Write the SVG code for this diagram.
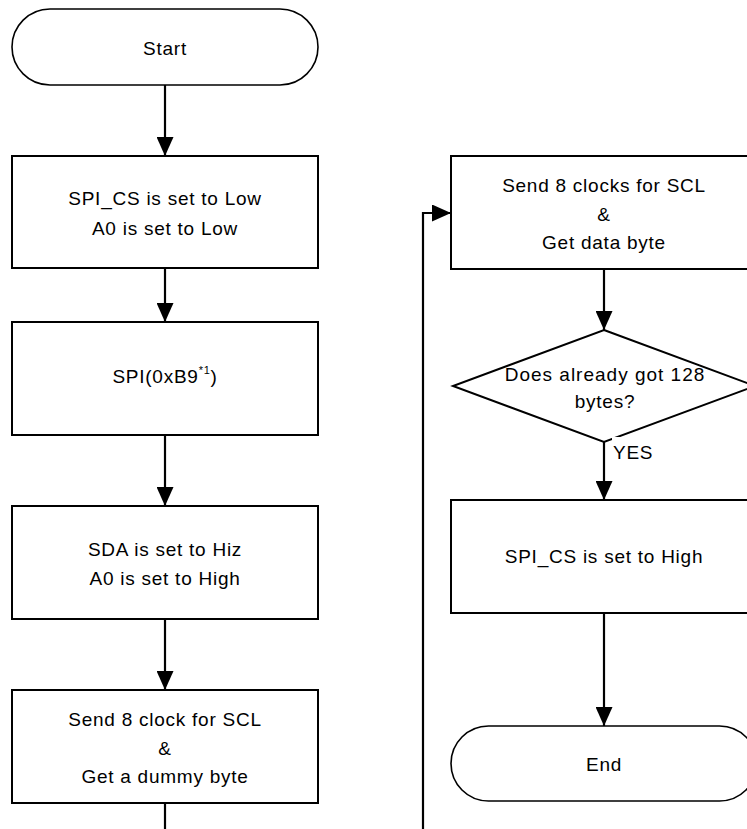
<svg xmlns="http://www.w3.org/2000/svg" width="747" height="829" viewBox="0 0 747 829">
  <style>
    .shape { fill: #ffffff; stroke: #000000; stroke-width: 2; }
    .term { fill: #ffffff; stroke: #000000; stroke-width: 1.6; }
    .conn { fill: none; stroke: #000000; stroke-width: 2.2; }
    .t { font-family: "Liberation Sans", Arial, sans-serif; font-size: 19px; fill: #000000; text-anchor: middle; letter-spacing: 0.75px; }
    .sup { font-size: 11px; fill: #000000; }
  </style>
  <defs>
    <marker id="arrow" markerUnits="userSpaceOnUse" markerWidth="19" markerHeight="17" refX="19" refY="8.5" orient="auto">
      <path d="M0,0 L19,8.5 L0,17 Z" fill="#000000"/>
    </marker>
  </defs>
  <rect x="0" y="0" width="747" height="829" fill="#ffffff"/>

  <g id="connectors">
    <path class="conn" d="M165,85 V156" marker-end="url(#arrow)"/>
    <path class="conn" d="M165,268 V322" marker-end="url(#arrow)"/>
    <path class="conn" d="M165,435 V506" marker-end="url(#arrow)"/>
    <path class="conn" d="M165,619 V690" marker-end="url(#arrow)"/>
    <path class="conn" d="M165,803 V835"/>
    <path class="conn" d="M423,835 V213 H451" marker-end="url(#arrow)"/>
    <path class="conn" d="M604,269 V330" marker-end="url(#arrow)"/>
    <path class="conn" d="M604,442 V500" marker-end="url(#arrow)"/>
    <path class="conn" d="M604,613 V726" marker-end="url(#arrow)"/>
  </g>

  <g id="start">
    <rect class="term" x="12" y="9" width="306" height="76" rx="38" ry="38"/>
    <text class="t" x="165" y="55">Start</text>
  </g>

  <g id="cs-low">
    <rect class="shape" x="12" y="156" width="306" height="112"/>
    <text class="t" x="165" y="205">SPI_CS is set to Low</text>
    <text class="t" x="165" y="235">A0 is set to Low</text>
  </g>

  <g id="spi-cmd">
    <rect class="shape" x="12" y="322" width="306" height="113"/>
    <text class="t" x="165" y="383">SPI(0xB9<tspan class="sup" dy="-9">*1</tspan><tspan dy="9">)</tspan></text>
  </g>

  <g id="sda-hiz">
    <rect class="shape" x="12" y="506" width="306" height="113"/>
    <text class="t" x="165" y="556">SDA is set to Hiz</text>
    <text class="t" x="165" y="585">A0 is set to High</text>
  </g>

  <g id="dummy-byte">
    <rect class="shape" x="12" y="690" width="306" height="113"/>
    <text class="t" x="165" y="726">Send 8 clock for SCL</text>
    <text class="t" x="165" y="755">&amp;</text>
    <text class="t" x="165" y="783">Get a dummy byte</text>
  </g>

  <g id="data-byte">
    <rect class="shape" x="451" y="156" width="306" height="113"/>
    <text class="t" x="604" y="192">Send 8 clocks for SCL</text>
    <text class="t" x="604" y="221">&amp;</text>
    <text class="t" x="604" y="249">Get data byte</text>
  </g>

  <g id="check-128">
    <polygon class="shape" points="604,330 755,386 604,442 453,386"/>
    <text class="t" x="605" y="381" style="letter-spacing:1px">Does already got 128</text>
    <text class="t" x="605" y="408">bytes?</text>
    <rect x="612" y="437" width="38" height="25" fill="#ffffff"/>
    <text class="t" x="613" y="459" style="text-anchor:start">YES</text>
  </g>

  <g id="cs-high">
    <rect class="shape" x="451" y="500" width="306" height="113"/>
    <text class="t" x="604" y="563">SPI_CS is set to High</text>
  </g>

  <g id="end">
    <rect class="term" x="451" y="726" width="306" height="75" rx="37.5" ry="37.5"/>
    <text class="t" x="604" y="771">End</text>
  </g>
</svg>
